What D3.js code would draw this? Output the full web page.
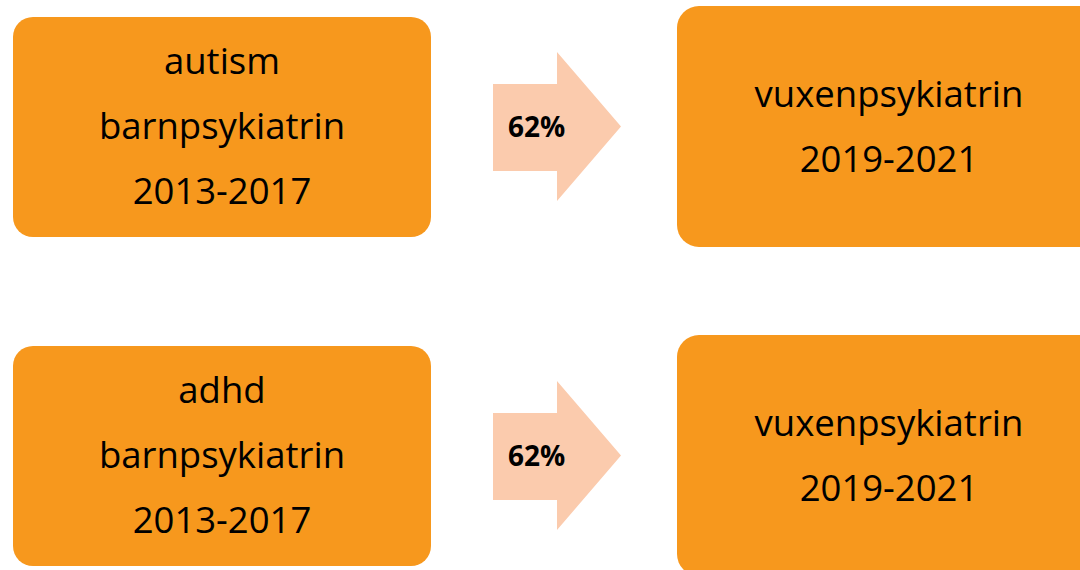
<!DOCTYPE html>
<html>
<head>
<meta charset="utf-8">
<script src="https://cdn.jsdelivr.net/npm/d3@7"></script>
<style>
  html, body { margin: 0; padding: 0; background: #fff; overflow: hidden; }
  svg { display: block; }
</style>
</head>
<body>
<script>
// data
var diagnoses   = ["autism", "adhd"]
  , fromUnit    = "barnpsykiatrin"
  , fromPeriod  = "2013-2017"
  , toUnit      = "vuxenpsykiatrin"
  , toPeriod    = "2019-2021"
  , shares      = [0.62, 0.62]

var W = 1080, H = 570
  , orange = "#f7981d"
  , peach  = "#fbcbad"
  , font   = "'Open Sans', Lato, sans-serif"

var svg = d3.select("body").append("svg")
	.attr("width", W)
	.attr("height", H)

// one row per diagnosis
var rowY = d3.scaleLinear().domain([0, 1]).range([0, 329])
  , fmt  = d3.format(".0%")

var rows = svg.selectAll("g.row")
	.data(diagnoses.map(function (d, i) { return {name: d, share: shares[i], i: i} }))
	.join("g")
	.attr("class", "row")
	.attr("transform", function (d) { return "translate(0," + rowY(d.i) + ")" })

// left box
rows.append("rect")
	.attr("x", 13).attr("y", 17)
	.attr("width", 418).attr("height", 220)
	.attr("rx", 20).attr("ry", 20)
	.attr("fill", orange)

rows.append("text")
	.attr("text-anchor", "middle")
	.attr("font-family", font)
	.attr("font-size", 36.5)
	.attr("fill", "#000")
	.selectAll("tspan")
	.data(function (d) { return [d.name, fromUnit, fromPeriod] })
	.join("tspan")
	.attr("x", 222)
	.attr("y", function (d, i) { return 74 + i * 65 })
	.text(function (d) { return d })

// arrow
var arrow = function () {
	var p = d3.path()
	p.moveTo(493, 84)
	p.lineTo(557, 84)
	p.lineTo(557, 52)
	p.lineTo(621, 126.5)
	p.lineTo(557, 201)
	p.lineTo(557, 171)
	p.lineTo(493, 171)
	p.closePath()
	return p.toString()
}

rows.append("path")
	.attr("d", arrow)
	.attr("fill", peach)

rows.append("text")
	.attr("x", 508).attr("y", 137)
	.attr("font-family", font)
	.attr("font-weight", "bold")
	.attr("font-size", 28)
	.attr("fill", "#000")
	.text(function (d) { return fmt(d.share) })

// right box
rows.append("rect")
	.attr("x", 677).attr("y", 6)
	.attr("width", 440).attr("height", 241)
	.attr("rx", 22).attr("ry", 22)
	.attr("fill", orange)

rows.append("text")
	.attr("text-anchor", "middle")
	.attr("font-family", font)
	.attr("font-size", 36.5)
	.attr("fill", "#000")
	.selectAll("tspan")
	.data([toUnit, toPeriod])
	.join("tspan")
	.attr("x", 889)
	.attr("y", function (d, i) { return 107 + i * 65 })
	.text(function (d) { return d })
</script>
</body>
</html>
